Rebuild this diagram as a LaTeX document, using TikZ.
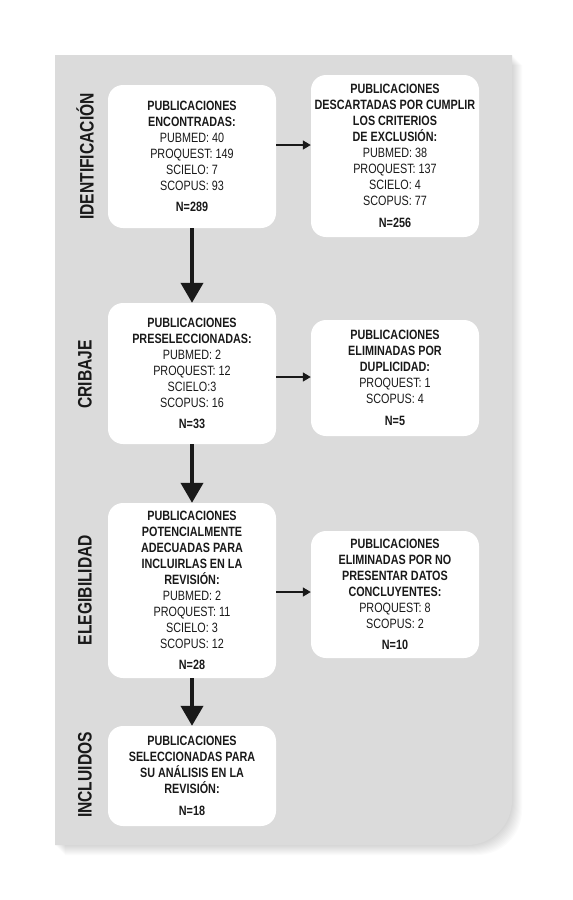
\documentclass[tikz,border=0pt]{standalone}
\usepackage{fontspec}
\setmainfont{Liberation Sans}[FakeStretch=0.8]
\usetikzlibrary{arrows.meta}
\definecolor{panelgray}{RGB}{219,219,219}
\definecolor{inkblack}{RGB}{25,25,25}
\newcommand\panelshape{(55,55) -- (512,55) -- (512,800) .. controls (512,825) and (492,845) .. (467,845) -- (55,845) -- cycle}
\tikzset{
  stagebox/.style={fill=white, rounded corners=15pt, minimum width=168pt,
    align=center, inner sep=0pt, text=inkblack,
    font=\fontsize{13.5}{16}\selectfont},
  phaselabel/.style={rotate=90, text=inkblack,
    font=\bfseries\fontsize{19.5}{20}\selectfont},
  bigarrow/.style={line width=4pt, inkblack, -{Triangle[width=22pt,length=20pt]}},
  sidearrow/.style={line width=1.4pt, inkblack, -{Triangle[width=9pt,length=8pt]}}
}

\begin{document}
\begin{tikzpicture}[x=1pt,y=-1pt]
  \useasboundingbox (0,0) rectangle (573,900);
  \fill[white] (0,0) rectangle (573,900);
  % soft shadow and panel
  \foreach \s in {1,...,10}
    \fill[black, opacity=0.015, shift={(\s,\s)}] \panelshape;
  \fill[panelgray] \panelshape;

  % phase labels
  \node[phaselabel] (ident) at (85,156.5) {IDENTIFICACIÓN};
  \node[phaselabel] (crib) at (85,374.5) {CRIBAJE};
  \node[phaselabel] (eleg) at (85,590) {ELEGIBILIDAD};
  \node[phaselabel] (incl) at (85,775) {INCLUIDOS};

  % left column
  \node[stagebox, minimum height=143pt] (found) at (192,156.5) {\textbf{PUBLICACIONES}\\\textbf{ENCONTRADAS:}\\PUBMED: 40\\PROQUEST: 149\\SCIELO: 7\\SCOPUS: 93\\[5.5pt]\textbf{N=289}};
  \node[stagebox, minimum height=141pt] (preselected) at (192,373.5) {\textbf{PUBLICACIONES}\\\textbf{PRESELECCIONADAS:}\\PUBMED: 2\\PROQUEST: 12\\SCIELO:3\\SCOPUS: 16\\[5.5pt]\textbf{N=33}};
  \node[stagebox, minimum height=175pt] (suitable) at (192,590.5) {\textbf{PUBLICACIONES}\\\textbf{POTENCIALMENTE}\\\textbf{ADECUADAS PARA}\\\textbf{INCLUIRLAS EN LA}\\\textbf{REVISIÓN:}\\PUBMED: 2\\PROQUEST: 11\\SCIELO: 3\\SCOPUS: 12\\[5.5pt]\textbf{N=28}};
  \node[stagebox, minimum height=100pt] (selected) at (192,776) {\textbf{PUBLICACIONES}\\\textbf{SELECCIONADAS PARA}\\\textbf{SU ANÁLISIS EN LA}\\\textbf{REVISIÓN:}\\[5.5pt]\textbf{N=18}};

  % right column
  \node[stagebox, minimum height=162pt] (discarded) at (395,156) {\textbf{PUBLICACIONES}\\\textbf{DESCARTADAS POR CUMPLIR}\\\textbf{LOS CRITERIOS}\\\textbf{DE EXCLUSIÓN:}\\PUBMED: 38\\PROQUEST: 137\\SCIELO: 4\\SCOPUS: 77\\[5.5pt]\textbf{N=256}};
  \node[stagebox, minimum height=116pt] (duplicates) at (395,378) {\textbf{PUBLICACIONES}\\\textbf{ELIMINADAS POR}\\\textbf{DUPLICIDAD:}\\PROQUEST: 1\\SCOPUS: 4\\[5.5pt]\textbf{N=5}};
  \node[stagebox, minimum height=127pt] (inconclusive) at (395,594.5) {\textbf{PUBLICACIONES}\\\textbf{ELIMINADAS POR NO}\\\textbf{PRESENTAR DATOS}\\\textbf{CONCLUYENTES:}\\PROQUEST: 8\\SCOPUS: 2\\[5.5pt]\textbf{N=10}};

  % arrows
  \draw[bigarrow] (found) -- (preselected);
  \draw[bigarrow] (preselected) -- (suitable);
  \draw[bigarrow] (suitable) -- (selected);

  \coordinate (out1) at ([yshift=11.5pt]found.east);
  \coordinate (out2) at ([yshift=-3.5pt]preselected.east);
  \coordinate (out3) at ([yshift=-1.5pt]suitable.east);
  \draw[sidearrow] (out1) -- (out1 -| discarded.west);
  \draw[sidearrow] (out2) -- (out2 -| duplicates.west);
  \draw[sidearrow] (out3) -- (out3 -| inconclusive.west);
\end{tikzpicture}
\end{document}
